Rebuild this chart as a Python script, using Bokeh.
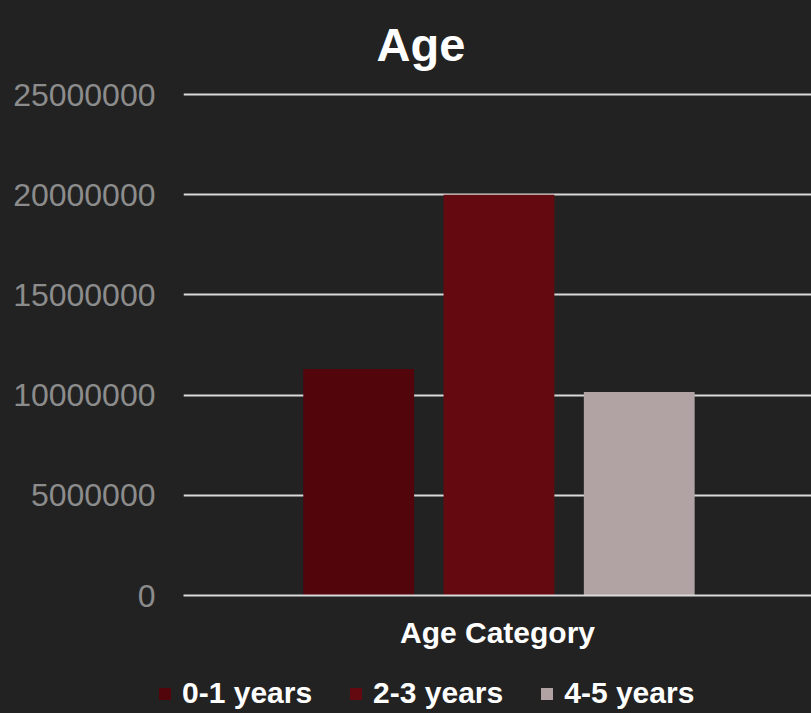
from bokeh.plotting import figure
from bokeh.layouts import column
from bokeh.models import Range1d, FixedTicker, Legend, LegendItem, ColumnDataSource, NumeralTickFormatter
from bokeh.embed import file_html
from bokeh.resources import INLINE

title_text = "Age"
x_label = "Age Category"
categories = ["0-1 years", "2-3 years", "4-5 years"]
values = [11300000, 20000000, 10150000]
colors = ["#52050B", "#650911", "#B1A3A3"]
y_ticks = [0, 5000000, 10000000, 15000000, 20000000, 25000000]

BG = "#222222"
FONT = "Liberation Sans"

src = ColumnDataSource(dict(
    x=list(range(len(categories))),
    top=values,
    color=colors,
    label=categories,
))

p = figure(frame_width=628, frame_height=511, output_backend="svg", toolbar_location=None,
           x_range=Range1d(-1.249, 3.228), y_range=Range1d(0, 25500000),
           min_border_left=183, min_border_right=0, min_border_top=84,
           min_border_bottom=58)
p.frame_align = False
p.background_fill_color = BG
p.border_fill_color = BG
p.outline_line_color = BG
p.outline_line_width = 2

r = p.vbar(x="x", top="top", width=0.79, fill_color="color", line_color=None, source=src)

# title
p.title.text = title_text
p.title.align = "left"
p.title.offset = 193
p.title.text_font = FONT
p.title.text_font_size = "47px"
p.title.text_font_style = "bold"
p.title.text_color = "#FFFFFF"
p.title.standoff = 28

# x axis
xa = p.xaxis[0]
xa.ticker = FixedTicker(ticks=[])
xa.major_label_text_font_size = "0px"
xa.major_tick_line_color = None
xa.minor_tick_line_color = None
xa.axis_line_color = "#D9D9D9"
xa.axis_line_width = 2
xa.axis_label = x_label
xa.axis_label_text_font = FONT
xa.axis_label_text_font_size = "30px"
xa.axis_label_text_font_style = "bold"
xa.axis_label_text_color = "#FFFFFF"
xa.axis_label_standoff = 20

# y axis
ya = p.yaxis[0]
ya.ticker = FixedTicker(ticks=y_ticks)
ya.formatter = NumeralTickFormatter(format="0")
ya.axis_line_color = None
ya.major_tick_line_color = None
ya.minor_tick_line_color = None
ya.major_label_text_font = FONT
ya.major_label_text_font_size = "32px"
ya.major_label_text_color = "#8C8C8C"
ya.major_label_standoff = 22

p.xgrid.grid_line_color = None
p.ygrid.grid_line_color = "#D9D9D9"
p.ygrid.grid_line_width = 2
p.ygrid.ticker = FixedTicker(ticks=y_ticks)

# legend strip below the chart (its bars lie entirely below the strip's visible range)
pl = figure(width=811, height=60, output_backend="svg", toolbar_location=None,
            x_range=Range1d(-1.249, 3.228), y_range=Range1d(30000000, 30000001),
            x_axis_type=None, y_axis_type=None, min_border=0)
pl.frame_align = False
pl.background_fill_color = BG
pl.border_fill_color = BG
pl.outline_line_color = None
pl.grid.grid_line_color = None
rl = pl.vbar(x="x", top="top", width=0.79, fill_color="color", line_color=None, source=src)

legend = Legend(items=[LegendItem(label=c, renderers=[rl], index=i) for i, c in enumerate(categories)],
                orientation="horizontal", location=(157, 3))
legend.background_fill_alpha = 0
legend.border_line_color = None
legend.label_text_font = FONT
legend.label_text_font_size = "30px"
legend.label_text_font_style = "bold"
legend.label_text_color = "#FFFFFF"
legend.glyph_width = 15
legend.glyph_height = 15
legend.label_standoff = 10
legend.spacing = 36
legend.padding = 0
legend.margin = 0
pl.add_layout(legend, "center")

layout = column(p, pl, spacing=0)
layout.styles = {"background-color": BG}
open("out.html", "w").write(file_html(layout, INLINE))
